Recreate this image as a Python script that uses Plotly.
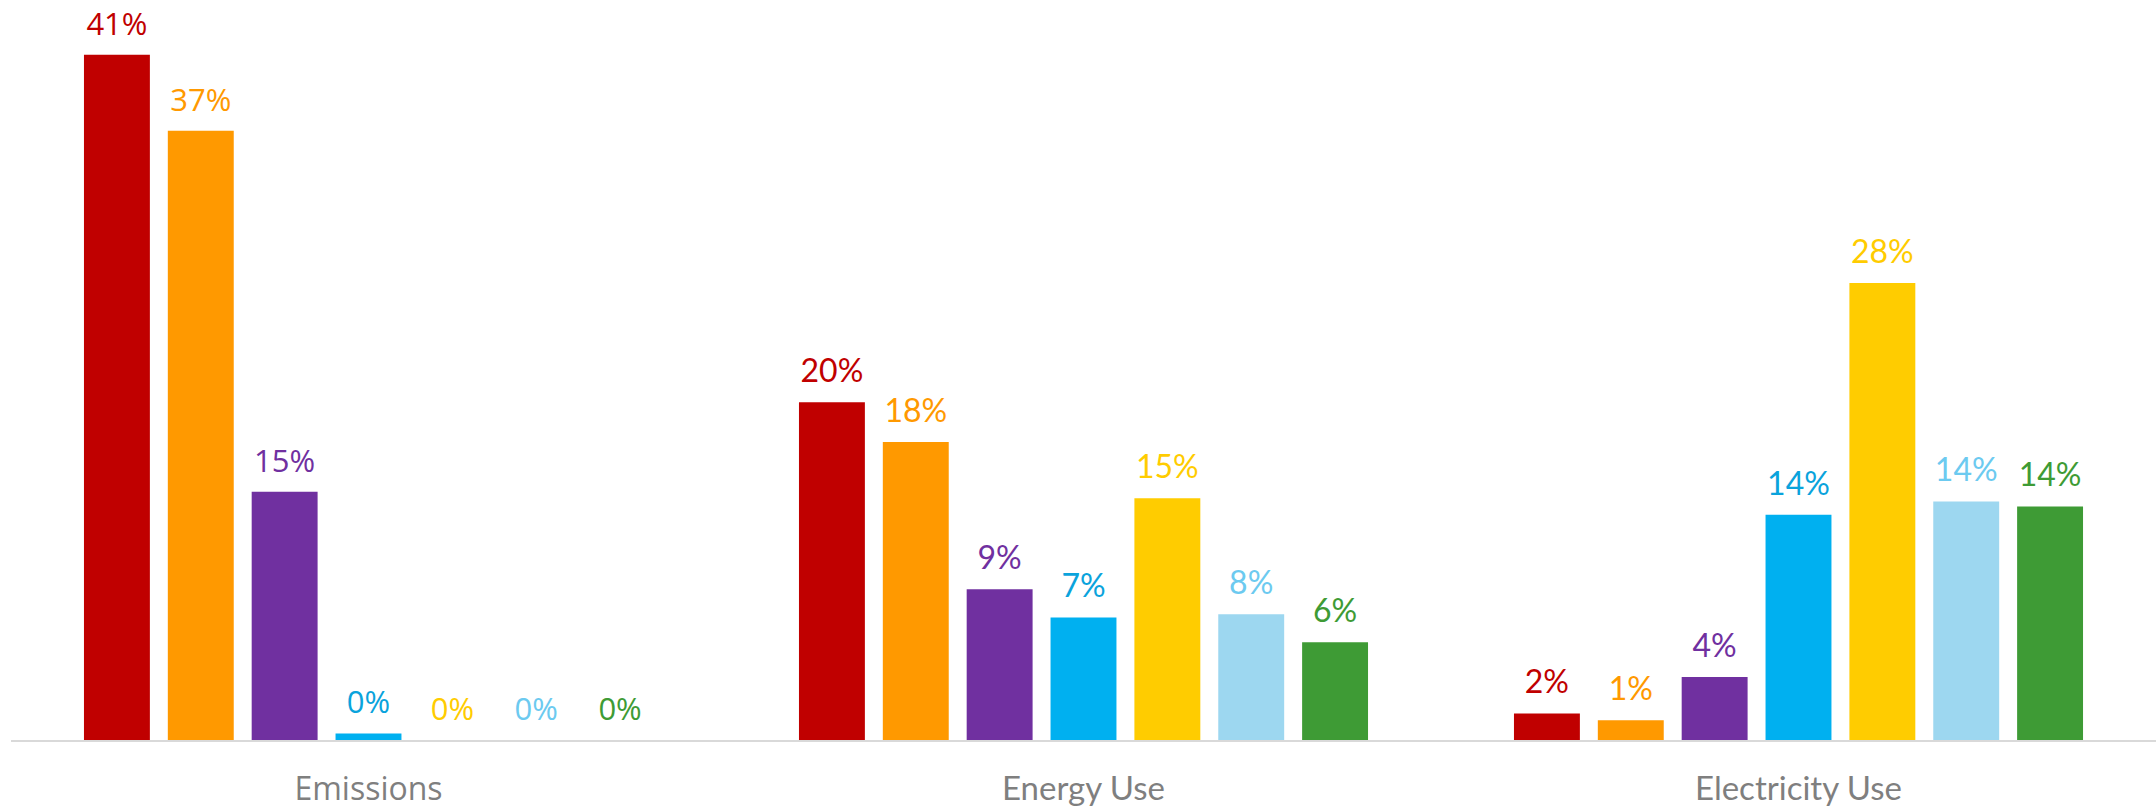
import plotly.graph_objects as go

categories = ["Emissions", "Energy Use", "Electricity Use"]
series_names = ["Series 1", "Series 2", "Series 3", "Series 4", "Series 5", "Series 6", "Series 7"]

s1 = [41.4, 20.4, 1.6]
s2 = [36.8, 18.0, 1.2]
s3 = [15.0, 9.1, 3.8]
s4 = [0.4, 7.4, 13.6]
s5 = [0.0, 14.6, 27.6]
s6 = [0.0, 7.6, 14.4]
s7 = [0.0, 5.9, 14.1]
series_values = [s1, s2, s3, s4, s5, s6, s7]

bar_colors = ["#C00000", "#FF9900", "#7030A0", "#00B0F0", "#FFCC00", "#9DD7F0", "#3E9B35"]
text_colors = ["#C00000", "#FF9900", "#7030A0", "#0AA3DC", "#FFCC00", "#6CCAF0", "#3E9B35"]

label_fonts = ["Open Sans", "Lato", "Lato"]
label_sizes = [31, 32, 32]
cat_fonts = ["Open Sans", "Lato", "Lato"]
cat_sizes = [32, 33, 33]

fig = go.Figure()
for i, (name, vals, bc) in enumerate(zip(series_names, series_values, bar_colors)):
    fig.add_trace(go.Bar(
        x=categories, y=vals, name=name,
        marker=dict(color=bc, line=dict(width=0)),
        offsetgroup=str(i),
    ))
for i, (name, vals, tc) in enumerate(zip(series_names, series_values, text_colors)):
    fig.add_trace(go.Scatter(
        x=categories, y=vals, name=name + " label",
        mode="markers+text",
        marker=dict(size=18, opacity=0),
        text=[f"{v:.0f}%" for v in vals],
        textposition="top center",
        cliponaxis=False,
        offsetgroup=str(i),
        textfont=dict(color=tc, family=label_fonts, size=label_sizes),
        hoverinfo="skip",
    ))

ticktext = [f'<span style="font-family:{f};font-size:{s}px">{c}</span>'
            for c, f, s in zip(categories, cat_fonts, cat_sizes)]

fig.update_layout(
    width=2156, height=809,
    margin=dict(l=11, r=0, t=0, b=69, autoexpand=False),
    paper_bgcolor="white", plot_bgcolor="white",
    barmode="group", bargap=0.179, bargroupgap=0.214,
    scattermode="group", scattergap=0.179,
    showlegend=False,
    xaxis=dict(
        tickvals=categories, ticktext=ticktext,
        showline=True, linecolor="#D9D9D9", linewidth=2,
        ticks="", showgrid=False, zeroline=False,
        automargin=False,
        ticklabelstandoff=18,
        tickfont=dict(color="#7F7F7F", family="Lato", size=33),
    ),
    yaxis=dict(range=[0, 44.7], visible=False, showgrid=False, zeroline=False,
               automargin=False),
)

fig.write_html("out.html")
